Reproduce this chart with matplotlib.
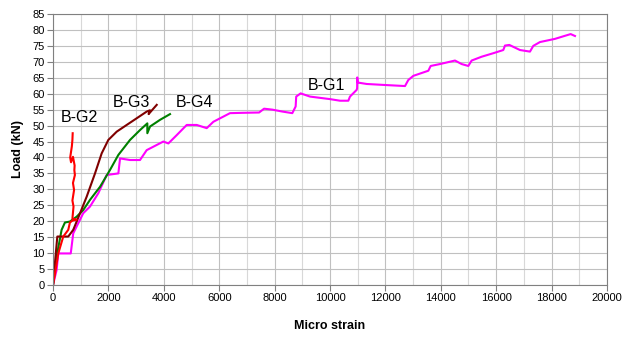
import matplotlib
matplotlib.use("Agg")
import matplotlib.pyplot as plt
from matplotlib.ticker import MultipleLocator

plt.rcParams['font.family'] = ['Liberation Sans', 'DejaVu Sans']

# B-G1 (magenta)
g1_strain = [0, 130, 190, 640, 730, 850, 1090, 1335, 1636, 1937, 2359, 2420, 2780, 3141,
             3382, 3984, 4164, 4465, 4827, 5188, 5549, 5790, 6390, 6840, 7440, 7620, 7920,
             8280, 8640, 8760, 8780, 8940, 9278,
             10000, 10361, 10662, 10722, 10963, 10980, 10985, 11000, 11325, 12047, 12708, 12828,
             13008, 13550, 13635, 13971, 14513, 14753, 14994, 15114, 15475, 15896, 16257, 16318,
             16474, 16859, 17220, 17340, 17581, 18123, 18423, 18689, 18845]
g1_load = [0, 4.7, 9.9, 9.9, 16.2, 18.3, 22.5, 24.6, 28.8, 34.5, 35, 39.7, 39.2, 39.2,
           42.3, 45, 44.4, 47, 50.2, 50.2, 49.2, 51.2, 53.9, 54.0, 54.1, 55.3, 55,
           54.4, 53.9, 56, 59.1, 60.1, 59.1,
           58.3, 57.8, 57.8, 59.1, 61.2, 61.7, 65.1, 63.5, 63.05, 62.7, 62.4, 64.3,
           65.6, 67.2, 68.7, 69.3, 70.4, 69.3, 68.7, 70.4, 71.6, 72.7, 73.7, 75.1,
           75.3, 73.7, 73.2, 75.0, 76.2, 77.2, 78.0, 78.7, 78.1]

# B-G2 (red)
g2_strain = [0, 60, 190, 370, 550, 610, 700, 850, 700, 740, 700, 760, 720, 790, 770, 780,
             720, 650, 620, 680, 700, 710]
g2_load = [0, 3, 9.9, 15.2, 17.3, 19.6, 20.2, 20.5, 20.8, 24.6, 26.5, 29.8, 32, 34.5, 36, 37.5,
           40.2, 38.5, 40, 43.5, 45.5, 47.6]

# B-G3 (dark red)
g3_strain = [0, 60, 155, 550, 730, 975, 1215, 1516, 1757, 1997, 2300, 2660, 3022, 3383, 3500,
             3450, 3744]
g3_load = [0, 6, 15.2, 15.2, 17.3, 22.5, 27.7, 35, 41.3, 45.5, 48.1, 50.2, 52.3, 54.4, 54.8,
           53.6, 56.5]

# B-G4 (green)
g4_strain = [0, 130, 310, 430, 610, 850, 1090, 1335, 1697, 2058, 2359, 2780, 3141, 3405,
             3405, 3502, 3863, 4224]
g4_load = [0, 8.9, 17.3, 19.6, 19.9, 21.4, 23.5, 26.7, 30.8, 36.1, 40.8, 45.5, 48.6, 50.7,
           47.6, 49.7, 51.8, 53.6]

labels = ['B-G1', 'B-G2', 'B-G3', 'B-G4']
label_pos = [(9856, 62.7), (940, 52.4), (2815, 57.1), (5090, 57.1)]

fig = plt.figure(figsize=(6.26, 3.38), dpi=100)
ax = fig.add_axes([0.0847, 0.1568, 0.8849, 0.8018])

ax.plot(g1_strain, g1_load, color='#ff00ff', lw=1.5)
ax.plot(g4_strain, g4_load, color='#008000', lw=1.5)
ax.plot(g3_strain, g3_load, color='#800000', lw=1.5)
ax.plot(g2_strain, g2_load, color='#ff0000', lw=1.5)

for lab, (x, y) in zip(labels, label_pos):
    ax.text(x, y, lab, fontsize=11.5, ha='center', va='center', color='black')

ax.set_xlim(0, 20000)
ax.set_ylim(0, 85)
ax.xaxis.set_major_locator(MultipleLocator(2000))
ax.xaxis.set_minor_locator(MultipleLocator(1000))
ax.yaxis.set_major_locator(MultipleLocator(5))
ax.grid(True, which='major', color='#c0c0c0', lw=0.8)
ax.grid(True, which='minor', axis='x', color='#d8d8d8', lw=0.8)
ax.set_axisbelow(True)
ax.tick_params(which='minor', length=0)
ax.tick_params(which='major', length=4, color='#808080', labelsize=8, pad=2)
for s in ax.spines.values():
    s.set_color('#808080')

ax.set_xlabel('Micro strain', fontsize=9, fontweight='bold', labelpad=12)
ax.set_ylabel('Load (kN)', fontsize=9, fontweight='bold', labelpad=6)

fig.savefig('out.png', dpi=100)
